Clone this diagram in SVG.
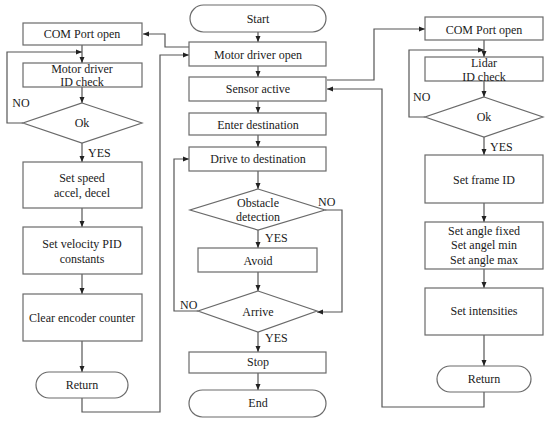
<svg xmlns="http://www.w3.org/2000/svg" width="550" height="425" viewBox="0 0 550 425">
<style>
.b{fill:#fff;stroke:#6a6a6a;stroke-width:1.2}
.t{font-family:"Liberation Serif","Times New Roman",serif;font-size:12px;fill:#1a1a1a;text-anchor:middle;dominant-baseline:central}
.l{font-family:"Liberation Serif","Times New Roman",serif;font-size:12px;fill:#1a1a1a;dominant-baseline:central}
.c{fill:none;stroke:#555;stroke-width:1.2}
</style>
<defs>
<marker id="a" viewBox="0 0 6 6" refX="6" refY="3" markerWidth="6" markerHeight="6" markerUnits="userSpaceOnUse" orient="auto"><path d="M0,0.5L6,3L0,5.5z" fill="#222"/></marker>
</defs>
<rect width="550" height="425" fill="#fff"/>
<g id="connectors">
<!-- left -->
<path class="c" d="M82,45V63" marker-end="url(#a)"/>
<path class="c" d="M82,87V103" marker-end="url(#a)"/>
<path class="c" d="M23,123H7V52H82" marker-end="url(#a)"/>
<path class="c" d="M82,143V162" marker-end="url(#a)"/>
<path class="c" d="M82,208V227" marker-end="url(#a)"/>
<path class="c" d="M82,274V294" marker-end="url(#a)"/>
<path class="c" d="M82,341V372" marker-end="url(#a)"/>
<path class="c" d="M189,47H165V34H143" marker-end="url(#a)"/>
<path class="c" d="M82,398V412H160V55H189" marker-end="url(#a)"/>
<!-- center -->
<path class="c" d="M258,32V42" marker-end="url(#a)"/>
<path class="c" d="M258,66V77" marker-end="url(#a)"/>
<path class="c" d="M258,101V113" marker-end="url(#a)"/>
<path class="c" d="M258,135V147" marker-end="url(#a)"/>
<path class="c" d="M258,171V189" marker-end="url(#a)"/>
<path class="c" d="M258,230V248" marker-end="url(#a)"/>
<path class="c" d="M258,272V291" marker-end="url(#a)"/>
<path class="c" d="M325,210H342V312H317" marker-end="url(#a)"/>
<path class="c" d="M198,311H174V159H189" marker-end="url(#a)"/>
<path class="c" d="M258,332V352" marker-end="url(#a)"/>
<path class="c" d="M258,373V390" marker-end="url(#a)"/>
<!-- right -->
<path class="c" d="M327,80H374V29H425" marker-end="url(#a)"/>
<path class="c" d="M484,392V407H382V89H327" marker-end="url(#a)"/>
<path class="c" d="M484,40V57" marker-end="url(#a)"/>
<path class="c" d="M484,81V97" marker-end="url(#a)"/>
<path class="c" d="M425,117H409V50H484" marker-end="url(#a)"/>
<path class="c" d="M484,137V155" marker-end="url(#a)"/>
<path class="c" d="M484,203V222" marker-end="url(#a)"/>
<path class="c" d="M484,269V288" marker-end="url(#a)"/>
<path class="c" d="M484,335V366" marker-end="url(#a)"/>
</g>
<g id="labels">
<text class="t" x="21" y="103">NO</text>
<text class="l" x="88" y="153">YES</text>
<text class="l" x="413" y="97">NO</text>
<text class="l" x="490" y="147">YES</text>
<text class="l" x="318" y="202">NO</text>
<text class="l" x="265" y="238">YES</text>
<text class="l" x="180" y="305">NO</text>
<text class="l" x="265" y="338">YES</text>
</g>
<!-- left column -->
<g id="com-left"><rect class="b" x="23" y="23" width="119" height="22"/><text class="t" x="82" y="34">COM Port open</text></g>
<g id="motor-id"><rect class="b" x="23" y="63" width="119" height="24"/><text class="t" x="82" y="69">Motor driver</text><text class="t" x="82" y="82">ID check</text></g>
<g id="ok-left"><polygon class="b" points="82,103 142,123 82,143 23,123"/><text class="t" x="82" y="123">Ok</text></g>
<g id="set-speed"><rect class="b" x="23" y="162" width="119" height="46"/><text class="t" x="82" y="178">Set speed</text><text class="t" x="82" y="193">accel, decel</text></g>
<g id="set-pid"><rect class="b" x="23" y="227" width="119" height="47"/><text class="t" x="82" y="244">Set velocity  PID</text><text class="t" x="82" y="259">constants</text></g>
<g id="clear-enc"><rect class="b" x="23" y="294" width="119" height="47"/><text class="t" x="82" y="318">Clear encoder counter</text></g>
<g id="return-left"><rect class="b" x="36" y="372" width="92" height="26" rx="13"/><text class="t" x="82" y="385">Return</text></g>
<!-- center column -->
<g id="start"><rect class="b" x="190" y="5" width="136" height="27" rx="13.5"/><text class="t" x="258" y="19">Start</text></g>
<g id="motor-open"><rect class="b" x="189" y="42" width="137" height="24"/><text class="t" x="258" y="55">Motor driver  open</text></g>
<g id="sensor"><rect class="b" x="189" y="77" width="137" height="24"/><text class="t" x="258" y="89">Sensor active</text></g>
<g id="enter-dest"><rect class="b" x="189" y="113" width="137" height="22"/><text class="t" x="258" y="125">Enter  destination</text></g>
<g id="drive"><rect class="b" x="189" y="147" width="137" height="24"/><text class="t" x="258" y="159">Drive  to destination</text></g>
<g id="obstacle"><polygon class="b" points="258,189 325,210 258,230 190,210"/><text class="t" x="258" y="203">Obstacle</text><text class="t" x="258" y="217">detection</text></g>
<g id="avoid"><rect class="b" x="198" y="248" width="119" height="24"/><text class="t" x="258" y="261">Avoid</text></g>
<g id="arrive"><polygon class="b" points="258,291 317,311 258,332 198,311"/><text class="t" x="258" y="312">Arrive</text></g>
<g id="stop"><rect class="b" x="189" y="352" width="137" height="21"/><text class="t" x="258" y="362">Stop</text></g>
<g id="end"><rect class="b" x="189" y="390" width="137" height="27" rx="13.5"/><text class="t" x="258" y="403">End</text></g>
<!-- right column -->
<g id="com-right"><rect class="b" x="425" y="17" width="118" height="23"/><text class="t" x="484" y="30">COM Port open</text></g>
<g id="lidar-id"><rect class="b" x="425" y="57" width="118" height="24"/><text class="t" x="484" y="63">Lidar</text><text class="t" x="484" y="77">ID check</text></g>
<g id="ok-right"><polygon class="b" points="484,97 543,117 484,137 425,117"/><text class="t" x="484" y="117">Ok</text></g>
<g id="frame-id"><rect class="b" x="425" y="155" width="118" height="48"/><text class="t" x="484" y="180">Set frame  ID</text></g>
<g id="set-angle"><rect class="b" x="425" y="222" width="118" height="47"/><text class="t" x="484" y="231">Set angle  fixed</text><text class="t" x="484" y="245">Set angel  min</text><text class="t" x="484" y="260">Set angle  max</text></g>
<g id="intensities"><rect class="b" x="425" y="288" width="118" height="47"/><text class="t" x="484" y="311">Set intensities</text></g>
<g id="return-right"><rect class="b" x="437" y="366" width="94" height="26" rx="13"/><text class="t" x="484" y="379">Return</text></g>
</svg>
